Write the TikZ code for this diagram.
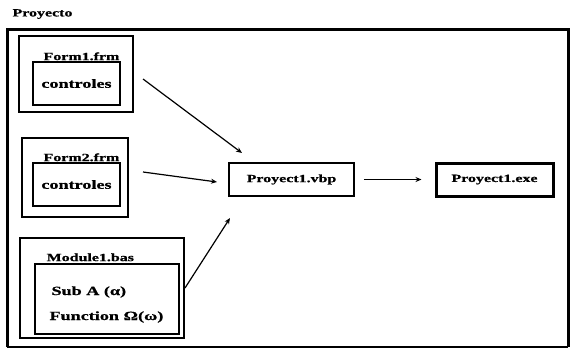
\documentclass[tikz,border=0pt]{standalone}
\usepackage{fontspec}
\setmainfont[FakeStretch=1.45,FakeBold=0.8]{Liberation Serif}
\usetikzlibrary{positioning,arrows.meta}

\tikzset{
  caja/.style={draw, line width=2.2pt, inner sep=0pt},
  interior/.style={draw, line width=1.1pt, inner sep=0pt},
  archivo/.style={draw, line width=1.6pt, minimum width=125pt, minimum height=33pt},
  flecha/.style={-{Stealth[length=6pt,width=5pt]}, line width=1.2pt},
  grande/.style={font=\bfseries\fontsize{12.5}{14}\selectfont}
}

\begin{document}
\begin{tikzpicture}[x=1pt,y=-1pt,font=\bfseries\fontsize{11}{13}\selectfont]
   \useasboundingbox (0,0) rectangle (573,351);

   % marco del proyecto
   \node [anchor=west] (titulo) at (9,14) {Proyecto};
   \draw [line width=3pt] (7,347) -- (7,29) -- (568,29) -- (568,347);
   \draw [line width=1.4pt] (7,347) -- (568,347);

   % formularios
   \node [caja, minimum width=114pt, minimum height=76pt] (form1) at (76,74) {};
   \node [interior, grande, minimum width=87pt, minimum height=43pt] (ctrl1) at (76.5,83.5) {controles};
   \node [anchor=south east, inner sep=1pt] (lform1) at (ctrl1.north east) {Form1.frm};

   \node [caja, minimum width=106pt, minimum height=79pt] (form2) at (75,177.5) {};
   \node [interior, grande, minimum width=87pt, minimum height=43pt] (ctrl2) at (76.5,184.5) {controles};
   \node [anchor=south east, inner sep=1pt] (lform2) at (ctrl2.north east) {Form2.frm};

   % modulo
   \node [caja, minimum width=164pt, minimum height=100pt] (mod1) at (102,288) {};
   \node [interior, minimum width=144pt, minimum height=70pt] (proc) at (107,299) {};
   \node [anchor=south west, inner sep=2pt] (lmod1) at ([xshift=10pt]proc.north west) {Module1.bas};
   \node [anchor=west, grande] (sub) at (48,292) {Sub A (α)};
   \node [anchor=west, grande] (fun) at (46,317) {Function Ω(ω)};

   % proyecto y ejecutable
   \node [archivo] (vbp) at (291.5,179.5) {Proyect1.vbp};
   \node [archivo, line width=3pt, minimum width=117pt] (exe) at (494.5,179.5) {Proyect1.exe};

   % flechas
   \coordinate (a1) at (143,79);
   \coordinate (b1) at (242,153);
   \coordinate (a2) at (143,172);
   \coordinate (b2) at (217,182);
   \coordinate (a3) at (185,288);
   \coordinate (b3) at (230,218);
   \draw [flecha] (a1) -- (b1);
   \draw [flecha] (a2) -- (b2);
   \draw [flecha] (a3) -- (b3);
   \draw [flecha, shorten <=9pt, shorten >=13pt] (vbp) -- (exe);

\end{tikzpicture}
\end{document}
